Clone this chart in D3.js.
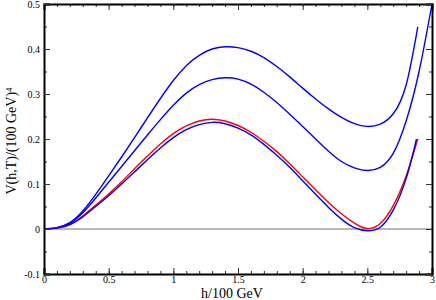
<!DOCTYPE html>
<html>
<head>
<meta charset="utf-8">
<script src="https://cdn.jsdelivr.net/npm/d3@7"></script>
<style>
    body { margin: 0; background: #fff; }
    text { font-family: "Liberation Serif", "DejaVu Serif", serif; fill: #000; }
</style>
</head>
<body>
<script>
"use strict";
(function(){
    // h values (h/100 GeV) shared by the curves
    const hGrid = [0, 0.1, 0.2, 0.3, 0.4, 0.5, 0.6, 0.7, 0.8, 0.9, 1.0, 1.1, 1.2, 1.3, 1.4,
        1.5, 1.6, 1.7, 1.8, 1.9, 2.0, 2.1, 2.2, 2.3, 2.4, 2.5, 2.6, 2.7, 2.8]

    // potential values, one array per curve
    const vTop = [0, 0.003, 0.014, 0.040, 0.077, 0.118, 0.160, 0.203, 0.247, 0.290, 0.330,
        0.363, 0.386, 0.400, 0.405, 0.403, 0.395, 0.381, 0.361, 0.338, 0.313, 0.289, 0.267,
        0.248, 0.234, 0.228, 0.233, 0.256, 0.320]
    const vTopEnd = [2.89, 0.449]

    const vSecond = [0, 0.003, 0.013, 0.036, 0.069, 0.104, 0.139, 0.174, 0.209, 0.243, 0.275,
        0.302, 0.321, 0.332, 0.336, 0.333, 0.322, 0.304, 0.281, 0.255, 0.228, 0.200, 0.173,
        0.150, 0.136, 0.130, 0.137, 0.168, 0.240]
    const vSecondTail = [[2.9, 0.350], [3.0, 0.5]]

    const vRed = [0, 0.002, 0.010, 0.029, 0.053, 0.078, 0.105, 0.134, 0.162, 0.189, 0.212,
        0.229, 0.240, 0.244, 0.240, 0.230, 0.215, 0.195, 0.172, 0.145, 0.116, 0.087, 0.059,
        0.034, 0.013, 0.001, 0.012, 0.052, 0.118]
    const vRedEnd = [2.89, 0.200]

    const vBottom = [0, 0.002, 0.010, 0.027, 0.050, 0.074, 0.100, 0.127, 0.154, 0.180, 0.203,
        0.221, 0.232, 0.237, 0.234, 0.224, 0.209, 0.188, 0.164, 0.137, 0.107, 0.077, 0.048,
        0.022, 0.003, -0.004, 0.004, 0.042, 0.112]
    const vBottomEnd = [2.88, 0.200]

    const xTicks = [0, 0.5, 1, 1.5, 2, 2.5, 3]
    const xTickLabels = ["0", "0.5", "1", "1.5", "2", "2.5", "3"]
    const yTicks = [-0.1, 0, 0.1, 0.2, 0.3, 0.4, 0.5]
    const yTickLabels = ["-0.1", "0", "0.1", "0.2", "0.3", "0.4", "0.5"]

    const measurements = {
        width: 436,
        height: 300,
        left: 44,
        right: 432,
        top: 4,
        bottom: 274
    }

    const svg = d3.select("body").append("svg")
        .attr("width", measurements.width)
        .attr("height", measurements.height)

    const scaleX = d3.scaleLinear()
        .domain([0, 3])
        .range([measurements.left, measurements.right])
    const scaleY = d3.scaleLinear()
        .domain([-0.1, 0.5])
        .range([measurements.bottom, measurements.top])

    // build point lists from the arrays
    function toPoints(values, extra) {
        const pts = hGrid.map((h, i) => [h, values[i]])
        return pts.concat(extra)
    }

    const curves = [
        { pts: toPoints(vTop, [vTopEnd]), color: "#0000ff" },
        { pts: toPoints(vSecond, vSecondTail), color: "#0000ff" },
        { pts: toPoints(vRed, [vRedEnd]), color: "#ff0000" },
        { pts: toPoints(vBottom, [vBottomEnd]), color: "#0000ff" }
    ]

    // zero line
    svg.append("line")
        .attr("x1", scaleX(0))
        .attr("x2", scaleX(3))
        .attr("y1", scaleY(0))
        .attr("y2", scaleY(0))
        .attr("stroke", "#a0a0a0")
        .attr("stroke-width", 1.5)

    const line = d3.line()
        .x(d => scaleX(d[0]))
        .y(d => scaleY(d[1]))
        .curve(d3.curveNatural)

    svg.selectAll(".curve")
        .data(curves)
        .enter()
        .append("path")
            .attr("class", "curve")
            .attr("d", d => line(d.pts))
            .attr("fill", "none")
            .attr("stroke", d => d.color)
            .attr("stroke-width", 1.4)

    // axes: ticks point inward on all four sides
    const xMinor = d3.range(0, 3.001, 0.1).map(v => +v.toFixed(2))
    const yMinor = d3.range(-0.1, 0.5001, 0.05).map(v => +v.toFixed(3))

    function makeAxis(gen, scale, ticks, size, labels) {
        return gen(scale)
            .tickValues(ticks)
            .tickSize(-size)
            .tickPadding(4)
            .tickFormat((d, i) => labels ? labels[i] : "")
    }

    const axes = [
        { gen: d3.axisBottom, scale: scaleX, t: `translate(0,${measurements.bottom})`, major: xTicks, minor: xMinor, labels: xTickLabels, side: "bottom" },
        { gen: d3.axisTop, scale: scaleX, t: `translate(0,${measurements.top})`, major: xTicks, minor: xMinor, labels: null, side: "top" },
        { gen: d3.axisLeft, scale: scaleY, t: `translate(${measurements.left},0)`, major: yTicks, minor: yMinor, labels: yTickLabels, side: "left" },
        { gen: d3.axisRight, scale: scaleY, t: `translate(${measurements.right},0)`, major: yTicks, minor: yMinor, labels: null, side: "right" }
    ]

    axes.forEach(a => {
        svg.append("g")
            .attr("transform", a.t)
            .call(makeAxis(a.gen, a.scale, a.minor, 3, null))
            .call(g => g.select(".domain").remove())
            .call(g => g.selectAll("line").attr("stroke", "#333"))
        const g = svg.append("g")
            .attr("transform", a.t)
            .call(makeAxis(a.gen, a.scale, a.major, 6, a.labels))
        g.select(".domain").attr("stroke", "#000").attr("stroke-width", 2)
        g.selectAll("line").attr("stroke", "#333")
        g.selectAll("text")
            .style("font-family", '"Liberation Serif", serif')
            .style("font-size", "10px")
        if (a.side === "bottom") g.selectAll("text").attr("y", 5).attr("dy", "0.35em")
        if (a.side === "left") g.selectAll("text").attr("x", -4)
    })

    // axis labels
    svg.append("text")
        .attr("x", 232)
        .attr("y", 298)
        .attr("text-anchor", "middle")
        .style("font-size", "14px")
        .text("h/100 GeV")

    const yLabel = svg.append("text")
        .attr("transform", "translate(16,141)rotate(-90)")
        .attr("text-anchor", "middle")
        .style("font-size", "14px")
    yLabel.append("tspan").text("V(h,T)/(100 GeV)")
    yLabel.append("tspan")
        .attr("dy", "-0.5em")
        .style("font-size", "9px")
        .text("4")
})()
</script>
</body>
</html>
